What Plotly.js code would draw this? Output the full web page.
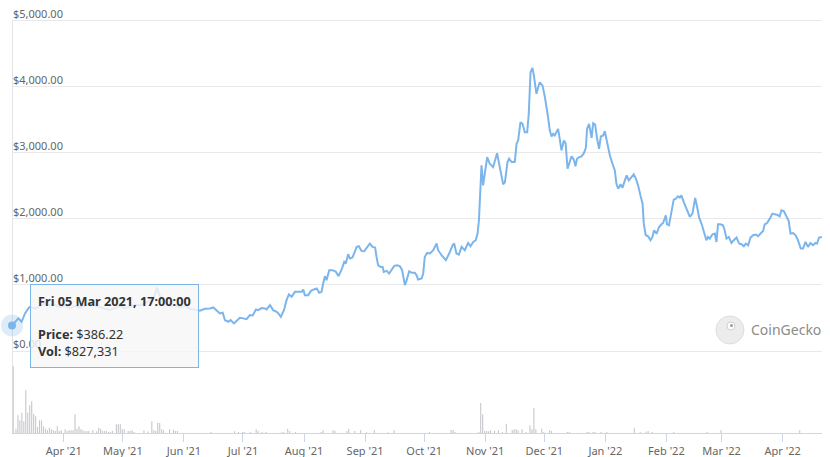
<!DOCTYPE html>
<html>
<head>
<meta charset="utf-8">
<script src="https://cdn.plot.ly/plotly-3.0.1.min.js"></script>
<style>
  html, body { margin: 0; padding: 0; background: #fff; }
  #chart { width: 830px; height: 457px; }
</style>
</head>
<body>
<div id="chart"></div>
<script>
// ---- DATA ----
// series start: Fri 05 Mar 2021, 17:00:00 ; day offsets from that moment
const seriesStart = '2021-03-05 17:00:00';
const rangeDays = 411.3;

// price series (day offset, USD)
const priceDays = [
  0,3.2,4.9,6.6,8.3,9.1,11.7,14.2,16.8,19.3,21.8,24.4,26.9,29.4,32,34.5,37.1,39.6,42.1,44.7,47.2,49.7,52.3,54.8,57.4,59.9,62.4,65,67.5,70.1,72.6,73.6,75.1,77.7,80.2,82.7,85.3,87.8,90.4,92.9,95.4,98,
  100.5,102.2,103.9,105.6,107,108.1,109.8,111,112.7,114.1,115.7,117.4,119.1,120.8,122.2,123.9,125,126.8,128.4,129.3,131,132.6,134.4,135.2,136.5,138.1,139.4,140.6,142,143.7,145.3,147.1,147.9,148.7,150.4,151.8,153.3,154.7,156,157.2,158,158.9,159.7,161.1,162.8,164.5,165.8,167.4,168.7,169.5,170.7,171.6,172.9,175,176.1,177.5,178.8,180.4,181.7,183.1,184.4,185.1,185.9,187.2,188.2,188.8,190.2,191.5,192.7,194.1,195.6,197,198.1,199.5,200.4,201.7,203,
  204.6,205.4,206.2,208,208.8,209.6,210.8,212.2,213.9,215.6,216.4,218.1,220.3,222,223.7,224.5,225.7,226.9,228.3,229.9,231.6,232.8,234.2,235.5,236.4,237.1,237.9,238.4,239.2,240.1,241.3,242.6,244.3,246.3,247.7,249.4,250.3,251.6,252.4,253.7,255.3,256.2,257,258.2,259.2,260.4,261.6,262.4,263.3,264.3,265,266.3,267.2,268,269.4,270.6,272.2,273.1,274,274.8,275.6,276.5,277.3,278.2,279,280.2,281.1,282.1,282.9,284.1,285.3,286.1,286.9,288,289.2,290.4,291.4,292,293,294.3,295.1,296.1,297.1,298.1,299,300.2,301,301.9,302.7,303.6,
  304.9,306.1,306.9,307.8,309,310,311.2,312.1,313.2,314.6,315.7,316.8,317.9,319.1,320.2,320.8,321.8,323,324.2,325.2,326,327.3,328.6,329.8,330.6,332,332.6,333.6,334.9,336,337.1,338.2,339.1,339.9,341.1,342.5,344.2,345.5,346.9,347.9,348.9,350.1,351.3,352.6,353.4,354.3,355.7,356.9,357.7,358.5,359.7,361,361.9,362.8,364,365.3,366.5,367.9,369.2,370.4,371.6,372.6,373.8,375,376.3,377.7,378.8,380,381.4,382.2,383.4,384.8,386.1,387.3,388.5,389.8,390.7,391.9,393.2,394.4,395.3,396.6,397.9,399.1,400.5,401.7,402.9,404.2,405.4,406.7,408,408.8,409.8,411.2
];
const priceUsd = [
  386.22,494,443,569,645,669,640,680,720,690,700,660,690,650,680,660,690,720,690,660,640,620,650,680,650,670,700,690,720,760,850,960,830,730,680,700,660,680,640,630,610,640,
  645,660,609,569,579,468,443,468,418,458,503,494,483,544,539,630,619,650,645,630,695,619,594,569,518,619,770,856,820,896,896,896,932,846,846,911,932,947,881,896,1023,1133,1073,1224,1224,1198,1133,1234,1349,1325,1465,1400,1415,1576,1586,1515,1510,1576,1627,1576,1566,1424,1299,1273,1273,1198,1213,1174,1224,1289,1299,1284,1224,997,1073,1208,1183,
  1183,1148,1083,1098,1174,1424,1485,1476,1526,1627,1526,1450,1375,1476,1601,1627,1476,1460,1576,1526,1636,1586,1651,1677,1778,1979,2482,2810,2508,2684,2935,2835,2784,2995,2784,2523,2557,2860,2911,2860,2860,3137,3187,3464,3439,3313,3313,3590,4219,4285,4169,3893,3993,4068,4018,3842,3540,3338,3248,3288,3263,3313,3363,3197,3036,3187,3147,2760,2835,2946,2896,2795,2911,2935,2946,2995,3077,3363,3439,3228,3449,3429,3213,3062,3248,3263,3328,3187,3047,2961,
  2835,2734,2533,2457,2523,2473,2583,2659,2583,2633,2674,2609,2508,2356,2231,1929,1752,1737,1677,1727,1828,1778,1878,1918,1938,2054,1918,1903,2130,2292,2307,2341,2322,2356,2255,2155,2029,2080,2316,2180,2019,1929,1817,1677,1727,1702,1767,1778,1651,1918,1918,1903,1828,1702,1727,1636,1677,1718,1627,1616,1586,1627,1601,1718,1752,1763,1737,1778,1817,1918,1938,2004,2080,2069,2064,2039,2130,2119,2029,1968,1778,1787,1752,1677,1551,1551,1651,1576,1636,1601,1636,1627,1718,1727
];

// daily volume bars (day offset, USD)
const volDays = [
  0.6,2,3,4,5,6,7,8,9,10, 11,12,13,14,15,16,17,18,19,20, 21,22,23,24,25,27,28,29,30,31,
  32,33,34,35,36,37,38,39,41,43, 44,45,46,47,48,49,50,51,53,54, 55,56,57,59,60,61,62,67,69,71,
  72,73,74,75,76,77,80,82,83,84, 101,113,115,117,118,121,124,125,127,129, 137,138,140,141,144,157,158,163,164,170,
  171,174,177,180,184,191,194,212,223,224, 225,237,238,239,240,241,242,243,245,247, 249,251,254,255,256,257,259,261,263,264,
  265,266,269,270,273,274,282,283,292,293, 295,296,299,302,316,319,322,323,325,336, 353,360,400
];
const volUsd = [
  827331,53100,218600,156800,250700,144500,527300,250700,342000,391400, 238300,206200,74100,156800,156800,82700,53100,33300,65400,45700, 33300,24700,82700,24700,33300,45700,24700,33300,33300,33300,
  230900,53100,82700,45700,33300,21000,24700,24700,33300,21000, 65400,53100,24700,24700,24700,12300,12300,24700,107400,107400, 107400,45700,45700,24700,24700,33300,12300,33300,21000,144500,
  33300,24700,127200,123500,45700,33300,45700,40700,24700,24700, 12300,21000,12300,12300,12300,12300,45700,24700,12300,12300, 8600,8600,53100,24700,12300,12300,33300,33300,24700,24700,
  53100,24700,33300,8600,33300,8600,33300,12300,37000,37000, 12300,12300,370400,230900,24700,24700,21000,33300,24700,33300, 12300,114800,37000,45700,45700,33300,45700,12300,95100,45700,
  308700,45700,53100,12300,33300,24700,12300,12300,12300,12300, 12300,12300,12300,12300,65400,12300,16000,24700,12300,12300, 12300,33300,33300
];

// axis ticks
const priceTicks = [0, 1000, 2000, 3000, 4000, 5000];
const firstMonthTick = '2021-04-01';
const tooltipTitle = 'Fri 05 Mar 2021, 17:00:00';
const brandName = 'CoinGecko';

// ---- helpers ----
const DAY = 86400000;
function parseUTC(s) {
  const [d, t] = s.split(' ');
  const [Y, M, D] = d.split('-').map(Number);
  const [h, m, sec] = (t || '00:00:00').split(':').map(Number);
  return Date.UTC(Y, M - 1, D, h, m, sec);
}
function fmt(ms) {
  return new Date(ms).toISOString().slice(0, 19).replace('T', ' ');
}
const t0 = parseUTC(seriesStart);
const toDate = d => fmt(t0 + d * DAY);
const priceX = priceDays.map(toDate);
const volX = volDays.map(toDate);

const blue = '#7cb5ec';
const FONT = '"Noto Sans", "Open Sans", sans-serif';

const traces = [
  {
    type: 'bar', x: volX, y: volUsd, yaxis: 'y2',
    marker: { color: '#c6c6cc', line: { width: 0 } },
    width: 0.55 * DAY, hoverinfo: 'skip'
  },
  {
    type: 'scatter', mode: 'lines', x: priceX, y: priceUsd,
    line: { color: blue, width: 2 }, hoverinfo: 'skip'
  },
  {
    type: 'scatter', mode: 'markers', x: [priceX[0]], y: [priceUsd[0]],
    marker: { size: 22, color: 'rgba(124,181,236,0.25)' }, cliponaxis: false, hoverinfo: 'skip'
  },
  {
    type: 'scatter', mode: 'markers', x: [priceX[0]], y: [priceUsd[0]],
    marker: { size: 8, color: blue }, cliponaxis: false, hoverinfo: 'skip'
  }
];

const moneyFmt = v => '$' + v.toLocaleString('en-US', { minimumFractionDigits: 2, maximumFractionDigits: 2 });
const intFmt = v => '$' + Math.round(v).toLocaleString('en-US');

const layout = {
  width: 830, height: 457,
  margin: { l: 12, r: 8, t: 5, b: 24 },
  paper_bgcolor: '#ffffff', plot_bgcolor: '#ffffff',
  showlegend: false,
  font: { family: FONT, size: 11, color: '#666666' },
  xaxis: {
    type: 'date',
    range: [toDate(0), toDate(rangeDays)],
    tick0: firstMonthTick, dtick: 'M1', tickformat: "%b '%y",
    ticks: 'outside', ticklen: 8, tickcolor: '#ccd6eb', tickwidth: 1,
    showline: true, linecolor: '#ccd6eb', linewidth: 1,
    showgrid: false, zeroline: false,
    tickfont: { family: FONT, size: 11, color: '#666666' }
  },
  yaxis: {
    range: [-1241, 5238],
    tickmode: 'array', tickvals: priceTicks, ticktext: priceTicks.map(moneyFmt),
    ticklabelposition: 'inside', ticklabelshift: -7, ticklabelstandoff: -2,
    ticks: '', showgrid: true, gridcolor: '#e9e9e9', gridwidth: 1,
    zeroline: false, showline: false,
    tickfont: { family: FONT, size: 11, color: '#666666' }
  },
  yaxis2: {
    overlaying: 'y', side: 'right', range: [0, 5285000],
    visible: false, showgrid: false, zeroline: false, fixedrange: true
  },
  shapes: [
    { type: 'line', xref: 'x', yref: 'y', x0: toDate(0), x1: toDate(0), y0: -1241, y1: 5000,
      line: { color: '#cccccc', width: 1 }, layer: 'below' },
    { type: 'circle', xref: 'paper', yref: 'paper', xsizemode: 'pixel', ysizemode: 'pixel',
      xanchor: 0.8864, yanchor: 0.2407, x0: -14, x1: 14, y0: -14, y1: 14,
      fillcolor: '#ececec', line: { color: '#dedede', width: 1 } },
    { type: 'circle', xref: 'paper', yref: 'paper', xsizemode: 'pixel', ysizemode: 'pixel',
      xanchor: 0.8864, yanchor: 0.2407, x0: -3, x1: 5, y0: 0, y1: 8,
      fillcolor: '#ffffff', line: { color: '#d0d0d0', width: 1 } },
    { type: 'circle', xref: 'paper', yref: 'paper', xsizemode: 'pixel', ysizemode: 'pixel',
      xanchor: 0.8864, yanchor: 0.2407, x0: 0, x1: 3, y0: 3, y1: 6,
      fillcolor: '#9a9a9a', line: { width: 0 } }
  ],
  annotations: [
    {
      xref: 'x', yref: 'y', x: priceX[0], y: priceUsd[0],
      xanchor: 'left', yanchor: 'middle', xshift: 18, showarrow: false, align: 'left',
      text: '<b>' + tooltipTitle + '</b><br> <br><b>Price:</b> ' + moneyFmt(priceUsd[0]) +
            '<br><b>Vol:</b> ' + intFmt(volUsd[0]),
      font: { family: FONT, size: 12.7, color: '#333333' },
      bgcolor: 'rgba(247,247,247,0.82)', bordercolor: blue, borderwidth: 1, borderpad: 7
    },
    {
      xref: 'paper', yref: 'paper', x: 0.9098, y: 0.2407, xanchor: 'left', yanchor: 'middle',
      showarrow: false, text: brandName,
      font: { family: FONT, size: 14, color: '#8c8c8c' }
    }
  ]
};

Plotly.newPlot('chart', traces, layout, { staticPlot: true, displayModeBar: false });
</script>
</body>
</html>
